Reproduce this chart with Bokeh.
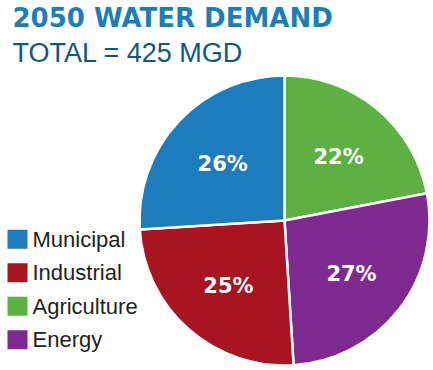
import math
from bokeh.plotting import figure
from bokeh.models import Range1d, ColumnDataSource
from bokeh.core.properties import value
from bokeh.embed import file_html
from bokeh.resources import INLINE

# ---- data ----
title1 = "2050 WATER DEMAND"
title2 = "TOTAL = 425 MGD"
pie_categories = ["Agriculture", "Energy", "Industrial", "Municipal"]   # clockwise from 12 o'clock
pie_values = [22, 27, 25, 26]
legend_categories = ["Municipal", "Industrial", "Agriculture", "Energy"]
colors = {
    "Municipal": "#1d7cbd",
    "Industrial": "#a8141f",
    "Agriculture": "#5cb142",
    "Energy": "#7e2a90",
}

# ---- layout ----
W, H = 433, 370
cx, cy, R = 284, 150, 145

p = figure(width=W, height=H, x_range=Range1d(0, W), y_range=Range1d(0, H),
           output_backend="svg", toolbar_location=None,
           x_axis_type=None, y_axis_type=None, min_border=0)
p.grid.visible = False
p.outline_line_color = None
p.background_fill_color = "white"

total = sum(pie_values)
starts, ends, mids = [], [], []
a = math.pi / 2
for v in pie_values:
    span = 2 * math.pi * v / total
    starts.append(a)
    ends.append(a - span)
    mids.append(a - span / 2)
    a -= span

src = ColumnDataSource(dict(
    start=starts, end=ends,
    color=[colors[c] for c in pie_categories],
    lx=[cx + 0.585 * R * math.cos(m) for m in mids],
    ly=[cy - 2 + 0.585 * R * math.sin(m) for m in mids],
    label=[f"{v}%" for v in pie_values],
))
p.wedge(x=cx, y=cy, radius=R, start_angle="start", end_angle="end",
        direction="clock", fill_color="color", line_color="white",
        line_width=2.5, source=src)
p.text(x="lx", y="ly", text="label", source=src, text_color="white",
       text_font=value("DejaVu Sans"), text_font_style="bold",
       text_font_size="21px", text_align="center", text_baseline="middle")

# titles
p.text(x=[12], y=[352.5], text=[title1], text_color="#1a7fb8",
       text_font=value("DejaVu Sans"), text_font_style="bold",
       text_font_size="26px", text_baseline="middle")
p.text(x=[12], y=[317.3], text=[title2], text_color="#11587f",
       text_font=value("Liberation Sans"),
       text_font_size="27px", text_baseline="middle")

# legend
base_y = 131.3
step = 33.5
ly = [base_y - i * step for i in range(len(legend_categories))]
p.rect(x=[17] * len(ly), y=ly, width=20, height=19,
       fill_color=[colors[c] for c in legend_categories], line_color=None)
p.text(x=[32] * len(ly), y=ly, text=legend_categories, text_color="#231f20",
       text_font=value("Liberation Sans"), text_font_size="22px",
       text_baseline="middle")

open("out.html", "w").write(file_html(p, INLINE))
